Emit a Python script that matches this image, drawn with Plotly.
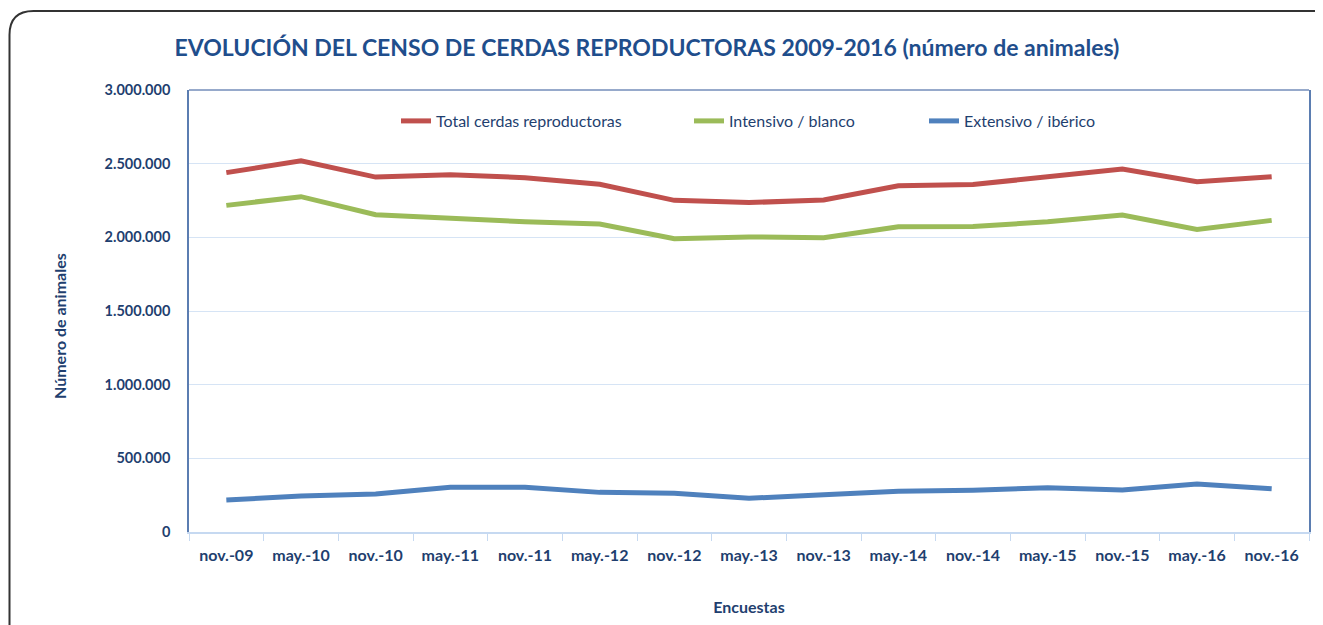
import plotly.graph_objects as go

# page has an 8px body margin, so the figure is a bit smaller than the window
W, H = 1315, 617
ML, MR, MT, MB = 181, 14, 82, 93
OFF = 8

encuestas = ["nov.-09", "may.-10", "nov.-10", "may.-11", "nov.-11", "may.-12", "nov.-12",
             "may.-13", "nov.-13", "may.-14", "nov.-14", "may.-15", "nov.-15", "may.-16", "nov.-16"]

total = [2439000, 2520000, 2409000, 2425000, 2405000, 2360000, 2251000,
         2236000, 2253000, 2350000, 2358000, 2410000, 2464000, 2378000, 2411000]
intensivo = [2217000, 2276000, 2153000, 2126000, 2106000, 2090000, 1991000,
             2003000, 1997000, 2072000, 2073000, 2106000, 2151000, 2054000, 2115000]
extensivo = [217000, 244000, 258000, 303000, 303000, 269000, 263000,
             229000, 253000, 276000, 283000, 301000, 285000, 326000, 294000]

NAVY = "#1F3F6F"
FONT = "Lato, sans-serif"

# page pixel -> paper helpers
pw, ph = W - ML - MR, H - MT - MB
def px(x):
    return (x - OFF - ML) / pw
def py(y):
    return (H - MB - (y - OFF)) / ph

fig = go.Figure()
series = [
    ("Total cerdas reproductoras", total, "#C0504D", "legend"),
    ("Intensivo / blanco", intensivo, "#9BBB59", "legend2"),
    ("Extensivo / ibérico", extensivo, "#4F81BD", "legend3"),
]
for name, vals, col, lg in series:
    fig.add_trace(go.Scatter(x=encuestas, y=vals, name=name, mode="lines",
                             line=dict(color=col, width=5), legend=lg))

leg_common = dict(orientation="h", yanchor="middle", y=py(121), xanchor="left",
                  bgcolor="rgba(0,0,0,0)", font=dict(family=FONT, size=16, color=NAVY))

# rounded outer frame (right and bottom sides run off the page)
l, t, r, b, rad = 9.5, 11, 1345, 650, 24
frame = (f"M {px(l)} {py(b)} L {px(l)} {py(t+rad)} Q {px(l)} {py(t)} {px(l+rad)} {py(t)} "
         f"L {px(r)} {py(t)}")

fig.update_layout(
    width=W, height=H,
    margin=dict(l=ML, r=MR, t=MT, b=MB),
    paper_bgcolor="white", plot_bgcolor="white",
    separators=",.",
    showlegend=True,
    title=dict(text="<b>EVOLUCIÓN DEL CENSO DE CERDAS REPRODUCTORAS 2009-2016 (número de animales)</b>",
               xref="container", x=(647 - OFF) / W, xanchor="center",
               y=1 - (48 - OFF) / H, yanchor="middle",
               font=dict(family=FONT, size=23, color="#1F4E8C")),
    legend=dict(x=px(396), **leg_common),
    legend2=dict(x=px(689), **leg_common),
    legend3=dict(x=px(924), **leg_common),
    xaxis=dict(type="category", tickson="boundaries", ticks="outside", ticklen=7,
               tickcolor="#C6D9F1", showline=True, linecolor="#C6D9F1", linewidth=2,
               showgrid=False, range=[-0.5, 14.5], ticklabelstandoff=8,
               tickfont=dict(family=FONT, size=16, color=NAVY, weight="bold"),
               title=dict(text="<b>Encuestas</b>", standoff=39,
                          font=dict(family=FONT, size=16, color=NAVY))),
    yaxis=dict(range=[0, 3000000], dtick=500000, tickformat=",d",
               showline=True, mirror=True, linecolor="#5B7DB1", linewidth=1.5,
               gridcolor="#D6E4F5", gridwidth=1, zeroline=False, ticks="",
               ticklabelstandoff=14,
               tickfont=dict(family=FONT, size=14.5, color=NAVY, weight="bold")),
    annotations=[
        dict(text="<b>Número de animales</b>", textangle=-90, xref="paper", yref="paper",
             x=px(59), y=py(326), showarrow=False, xanchor="center", yanchor="middle",
             font=dict(family=FONT, size=16, color=NAVY)),
    ],
    shapes=[
        dict(type="line", xref="paper", yref="paper", x0=0, x1=1, y0=1, y1=1,
             line=dict(color="#2F5597", width=1)),
        dict(type="path", xref="paper", yref="paper", path=frame,
             line=dict(color="#333333", width=2)),
    ],
)

fig.write_html("out.html")
